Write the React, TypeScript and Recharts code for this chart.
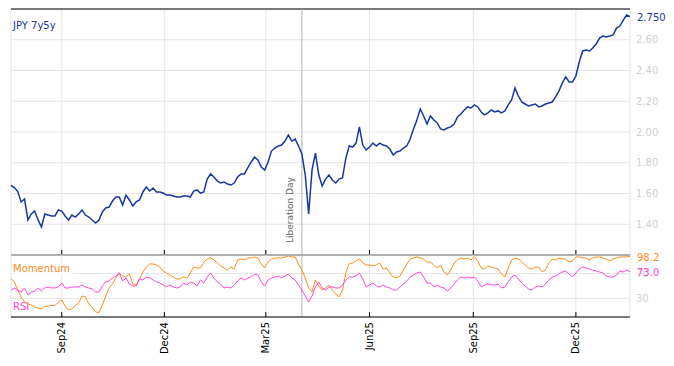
import { LineChart, Line, XAxis, YAxis, CartesianGrid, ReferenceLine } from "recharts";

const DAY = 86400000;
const START = Date.UTC(2024, 6, 18);
const STEP_DAYS = 3;
const END = START + 549 * DAY;

const monthTicks = [
  Date.UTC(2024, 8, 1),
  Date.UTC(2024, 11, 1),
  Date.UTC(2025, 2, 1),
  Date.UTC(2025, 5, 1),
  Date.UTC(2025, 8, 1),
  Date.UTC(2025, 11, 1),
];
const monthLabels = ["Sep24", "Dec24", "Mar25", "Jun25", "Sep25", "Dec25"];
const liberationDay = Date.UTC(2025, 3, 2);

const jpy7y5y = [
  1.652, 1.639, 1.613, 1.545, 1.564, 1.428, 1.467, 1.486, 1.428, 1.382,
  1.467, 1.46, 1.454, 1.454, 1.493, 1.486, 1.454, 1.428, 1.46, 1.447,
  1.467, 1.493, 1.46, 1.447, 1.428, 1.408, 1.428, 1.48, 1.506, 1.512,
  1.551, 1.577, 1.577, 1.525, 1.59, 1.558, 1.519, 1.545, 1.558, 1.61,
  1.642, 1.616, 1.636, 1.61, 1.61, 1.603, 1.59, 1.59, 1.584, 1.577,
  1.577, 1.584, 1.584, 1.577, 1.616, 1.623, 1.603, 1.61, 1.694, 1.727,
  1.707, 1.681, 1.668, 1.675, 1.662, 1.655, 1.668, 1.707, 1.727, 1.727,
  1.766, 1.805, 1.837, 1.818, 1.772, 1.753, 1.805, 1.876, 1.896, 1.909,
  1.915, 1.941, 1.98, 1.941, 1.954, 1.909, 1.857, 1.72, 1.467, 1.753,
  1.863, 1.72, 1.649, 1.694, 1.72, 1.688, 1.668, 1.694, 1.701, 1.831,
  1.909, 1.902, 1.928, 2.033, 1.915, 1.883, 1.902, 1.928, 1.909, 1.928,
  1.915, 1.909, 1.889, 1.85, 1.87, 1.876, 1.896, 1.909, 1.954, 2.02,
  2.078, 2.15, 2.104, 2.052, 2.104, 2.078, 2.059, 2.02, 2.013, 2.026,
  2.033, 2.052, 2.098, 2.117, 2.143, 2.163, 2.156, 2.176, 2.163, 2.13,
  2.111, 2.124, 2.143, 2.13, 2.137, 2.124, 2.137, 2.176, 2.208, 2.286,
  2.234, 2.195, 2.182, 2.169, 2.176, 2.182, 2.163, 2.169, 2.182, 2.189,
  2.195, 2.228, 2.267, 2.319, 2.358, 2.325, 2.325, 2.364, 2.455, 2.527,
  2.533, 2.527, 2.546, 2.572, 2.611, 2.624, 2.618, 2.624, 2.631, 2.676,
  2.689, 2.728, 2.761, 2.75,
];

const momentum = [
  61.3, 56.5, 43.5, 32.3, 24.2, 21.0, 19.4, 16.1, 14.5, 12.9,
  16.9, 17.7, 18.5, 18.5, 24.2, 27.4, 17.7, 11.3, 12.9, 18.5,
  22.6, 33.9, 32.3, 21.0, 15.3, 8.1, 7.3, 19.4, 33.9, 46.8,
  53.2, 62.9, 71.0, 66.1, 64.5, 69.4, 53.2, 51.6, 61.3, 72.6,
  80.6, 85.5, 85.5, 83.9, 80.6, 74.2, 71.0, 67.7, 64.5, 61.3,
  61.3, 64.5, 62.9, 71.0, 80.6, 79.0, 79.0, 88.7, 93.5, 95.2,
  91.9, 87.1, 82.3, 79.0, 75.8, 80.6, 77.4, 91.9, 93.5, 91.9,
  95.2, 95.2, 96.8, 95.2, 85.5, 79.0, 88.7, 93.5, 95.2, 95.2,
  95.2, 96.8, 98.4, 96.8, 96.8, 85.5, 75.8, 62.9, 46.8, 40.3,
  59.7, 50.0, 43.5, 46.8, 51.6, 43.5, 37.1, 32.3, 43.5, 72.6,
  85.5, 87.1, 90.3, 93.5, 87.1, 83.9, 83.9, 82.3, 83.9, 87.1,
  77.4, 79.0, 71.0, 64.5, 62.9, 66.1, 75.8, 85.5, 93.5, 95.2,
  96.8, 95.2, 93.5, 88.7, 88.7, 83.9, 79.0, 83.9, 72.6, 67.7,
  75.8, 87.1, 91.9, 95.2, 93.5, 95.2, 91.9, 96.8, 90.3, 79.0,
  77.4, 82.3, 80.6, 79.0, 77.4, 69.4, 64.5, 79.0, 91.9, 95.2,
  93.5, 88.7, 83.9, 79.0, 77.4, 80.6, 80.6, 72.6, 75.8, 87.1,
  93.5, 91.9, 95.2, 93.5, 93.5, 88.7, 90.3, 96.8, 96.8, 95.2,
  95.2, 91.9, 95.2, 96.8, 96.8, 95.2, 93.5, 90.3, 93.5, 95.2,
  96.8, 96.8, 96.8, 98.2,
];

const rsi = [
  43.5, 46.8, 43.5, 40.3, 46.8, 35.5, 40.3, 41.9, 46.8, 41.9,
  46.8, 48.4, 46.8, 46.8, 48.4, 54.8, 46.8, 46.8, 48.4, 48.4,
  48.4, 51.6, 48.4, 46.8, 45.2, 40.3, 40.3, 50.0, 56.5, 58.1,
  62.9, 66.1, 71.0, 58.1, 62.9, 53.2, 50.0, 50.0, 61.3, 59.7,
  64.5, 62.9, 59.7, 56.5, 54.8, 51.6, 48.4, 51.6, 48.4, 46.8,
  48.4, 54.8, 51.6, 56.5, 54.8, 50.0, 59.7, 54.8, 64.5, 71.0,
  62.9, 56.5, 53.2, 46.8, 48.4, 46.8, 51.6, 58.1, 62.9, 59.7,
  62.9, 64.5, 69.4, 67.7, 56.5, 50.0, 59.7, 62.9, 64.5, 66.1,
  62.9, 66.1, 69.4, 62.9, 59.7, 51.6, 43.5, 33.9, 24.2, 33.9,
  48.4, 56.5, 46.8, 43.5, 48.4, 48.4, 46.8, 46.8, 51.6, 59.7,
  64.5, 64.5, 66.1, 71.0, 61.3, 48.4, 51.6, 54.8, 50.0, 48.4,
  51.6, 48.4, 46.8, 43.5, 43.5, 48.4, 53.2, 58.1, 64.5, 67.7,
  71.0, 72.6, 64.5, 54.8, 54.8, 48.4, 51.6, 48.4, 46.8, 41.9,
  46.8, 53.2, 59.7, 64.5, 62.9, 64.5, 62.9, 64.5, 58.1, 48.4,
  51.6, 53.2, 51.6, 51.6, 53.2, 46.8, 48.4, 56.5, 64.5, 67.7,
  61.3, 54.8, 50.0, 45.2, 43.5, 48.4, 50.0, 48.4, 53.2, 59.7,
  64.5, 66.1, 69.4, 72.6, 74.2, 69.4, 64.5, 71.0, 77.4, 80.6,
  79.0, 77.4, 75.8, 74.2, 72.6, 71.0, 66.1, 64.5, 64.5, 67.7,
  74.2, 72.6, 75.8, 73.0,
];

const priceTicks = [1.4, 1.6, 1.8, 2.0, 2.2, 2.4, 2.6];
const oscTicks = [30, 70];

const BLUE = "#1638a0";
const ORANGE = "#ff8c1a";
const MAGENTA = "#ff47d6";
const GRID = "#e6e6e6";
const TICK_GREY = "#d0d0d0";
const FONT = "DejaVu Sans, sans-serif";

const data = jpy7y5y.map((v, i) => ({
  t: START + i * STEP_DAYS * DAY,
  jpy: v,
  mom: momentum[i],
  rsi: rsi[i],
}));
const LAST = data.length - 1;

// value tag next to the final point of a series
const lastValue = (color: string, digits: number, dy: number) => (p: any) =>
  p.index === LAST ? (
    <text x={p.x + 7} y={p.y} dy={dy} fill={color} fontSize={10} fontFamily={FONT}>
      {Number(p.value).toFixed(digits)}
    </text>
  ) : (
    <g />
  );

const UpTick = (p: any) => (
  <line x1={p.x} x2={p.x} y1={p.y} y2={p.y - 5} stroke="#000" strokeWidth={1} />
);

const MonthTick = (p: any) => (
  <g>
    <line x1={p.x} x2={p.x} y1={p.y} y2={p.y - 5} stroke="#000" strokeWidth={1} />
    <text
      x={p.x}
      y={p.y + 5}
      transform={`rotate(-90, ${p.x}, ${p.y + 5})`}
      textAnchor="end"
      dominantBaseline="central"
      fontSize={10}
      fontFamily={FONT}
      fill="#000"
    >
      {monthLabels[p.index]}
    </text>
  </g>
);

const LibLabel = (p: any) => {
  const vb = p.viewBox || {};
  const x = vb.x - 12;
  const y = vb.y + vb.height - 12;
  return (
    <text
      x={x}
      y={y}
      transform={`rotate(-90, ${x}, ${y})`}
      textAnchor="start"
      dominantBaseline="central"
      fontSize={9}
      fontFamily={FONT}
      fill="#666"
    >
      Liberation Day
    </text>
  );
};

const axisTick = { fill: TICK_GREY, fontSize: 10, fontFamily: FONT };

export default function App() {
  return (
    <div
      style={{
        position: "absolute",
        left: 0,
        top: 0,
        width: 674,
        height: 366,
        background: "#fff",
        fontFamily: FONT,
      }}
    >
      <div style={{ position: "absolute", left: 0, top: 0 }}>
        <LineChart width={674} height={256} data={data} margin={{ top: 9, right: 0, bottom: 0, left: 11 }}>
          <CartesianGrid stroke={GRID} />
          <XAxis
            dataKey="t"
            type="number"
            domain={[START, END]}
            ticks={monthTicks}
            height={1}
            tickSize={0}
            tickMargin={0}
            tickLine={false}
            axisLine={{ stroke: "#000" }}
            tick={UpTick}
            interval={0}
          />
          <YAxis
            orientation="right"
            width={44}
            domain={[1.2, 2.8]}
            ticks={priceTicks}
            tickFormatter={(v: number) => v.toFixed(2)}
            tickSize={0}
            tickMargin={6}
            tickLine={false}
            axisLine={false}
            tick={axisTick}
            interval={0}
          />
          <ReferenceLine y={2.8} stroke="#000" />
          <ReferenceLine x={liberationDay} stroke="#b4b4b4" label={LibLabel} />
          <Line
            dataKey="jpy"
            stroke={BLUE}
            strokeWidth={1.5}
            dot={false}
            isAnimationActive={false}
            label={lastValue(BLUE, 3, 4)}
          />
          <text x={13} y={29} fill={BLUE} fontSize={10} fontFamily={FONT}>
            JPY 7y5y
          </text>
        </LineChart>
      </div>
      <div style={{ position: "absolute", left: 0, top: 245 }}>
        <LineChart width={674} height={121} data={data} margin={{ top: 10, right: 0, bottom: 0, left: 11 }}>
          <CartesianGrid stroke={GRID} />
          <XAxis
            dataKey="t"
            type="number"
            domain={[START, END]}
            ticks={monthTicks}
            height={49}
            tickSize={0}
            tickMargin={0}
            tickLine={false}
            axisLine={{ stroke: "#000" }}
            tick={MonthTick}
            interval={0}
          />
          <YAxis
            orientation="right"
            width={44}
            domain={[0, 100]}
            ticks={oscTicks}
            tickSize={0}
            tickMargin={6}
            tickLine={false}
            axisLine={false}
            tick={axisTick}
            interval={0}
          />
          <ReferenceLine x={liberationDay} stroke="#b4b4b4" />
          <Line
            dataKey="mom"
            stroke={ORANGE}
            strokeWidth={1}
            dot={false}
            isAnimationActive={false}
            label={lastValue(ORANGE, 1, 5)}
          />
          <Line
            dataKey="rsi"
            stroke={MAGENTA}
            strokeWidth={1}
            dot={false}
            isAnimationActive={false}
            label={lastValue(MAGENTA, 1, 4)}
          />
          <rect x={12} y={18} width={62} height={12} fill="#fff" fillOpacity={0.7} />
          <text x={13} y={27} fill={ORANGE} fontSize={10} fontFamily={FONT}>
            Momentum
          </text>
          <rect x={12} y={55} width={20} height={12} fill="#fff" fillOpacity={0.7} />
          <text x={13} y={65} fill={MAGENTA} fontSize={10} fontFamily={FONT}>
            RSI
          </text>
        </LineChart>
      </div>
    </div>
  );
}
